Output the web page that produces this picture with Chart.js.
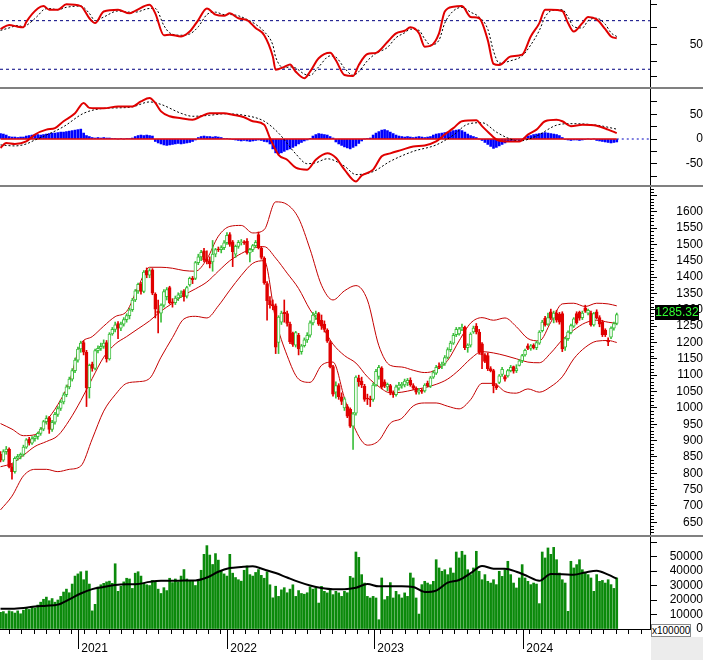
<!DOCTYPE html>
<html>
<head>
<meta charset="utf-8">
<title>VN-Index weekly</title>
<script src="https://cdn.jsdelivr.net/npm/chart.js@4.4.1/dist/chart.umd.min.js"></script>
<style>
  html, body { margin: 0; padding: 0; background: #fff; }
  body { position: relative; width: 703px; height: 660px; overflow: hidden; font-family: "Liberation Sans", Arial, sans-serif; }
  canvas { position: absolute; left: 0; }
  .sep { position: absolute; left: 0; width: 703px; height: 2px; background: #808080; }
  #lastPrice { position: absolute; left: 655px; top: 305px; width: 44px; height: 15px; background: #000; color: #33ff33; font-size: 12px; line-height: 15px; text-align: center; }
  #corner { position: absolute; left: 651px; top: 637px; width: 52px; height: 23px; background: #ececec; }
  #volUnit { position: absolute; left: 651px; top: 624px; width: 38px; height: 11px; border: 1px solid #8a8a8a; background: #fff; font-size: 10px; line-height: 11px; text-align: center; }
</style>
</head>
<body>
<canvas id="rsiChart" width="703" height="87" style="top:0px"></canvas>
<div class="sep" style="top:87px"></div>
<canvas id="macdChart" width="703" height="96" style="top:89px"></canvas>
<div class="sep" style="top:185px"></div>
<canvas id="priceChart" width="703" height="348" style="top:187px"></canvas>
<div class="sep" style="top:535px"></div>
<canvas id="volChart" width="703" height="123" style="top:537px"></canvas>
<div id="corner"></div>
<div id="lastPrice">1285.32</div>
<div id="volUnit">x100000</div>
<script>
// weekly bars, index 0 = first week of Jul 2020, last = week of 23 Aug 2024
const opens = [
  858, 840, 866, 874, 820, 805, 846, 852, 858, 880,
  904, 892, 906, 912, 922, 935, 958, 970, 934, 956,
  980, 998, 1018, 1040, 1064, 1088, 1114, 1146, 1180, 1200,
  1170, 1062, 1134, 1121, 1175, 1182, 1188, 1200, 1150, 1226,
  1240, 1258, 1244, 1256, 1270, 1282, 1300, 1330, 1358, 1378,
  1356, 1420, 1406, 1422, 1348, 1296, 1290, 1314, 1340, 1368,
  1324, 1322, 1336, 1346, 1358, 1342, 1376, 1396, 1396, 1444,
  1462, 1480, 1456, 1450, 1446, 1470, 1486, 1484, 1490, 1505,
  1530, 1508, 1470, 1494, 1506, 1508, 1510, 1474, 1484, 1496,
  1530, 1488, 1458, 1380, 1328, 1316, 1312, 1200, 1262, 1292,
  1288, 1256, 1228, 1192, 1222, 1172, 1190, 1208, 1222, 1260,
  1284, 1288, 1268, 1256, 1238, 1200, 1126, 1048, 1068, 1034,
  1000, 1004, 996, 944, 984, 1090, 1082, 1066, 1030, 1028,
  1026, 1070, 1096, 1122, 1080, 1064, 1068, 1046, 1040, 1060,
  1068, 1070, 1076, 1084, 1068, 1060, 1048, 1054, 1052, 1076,
  1066, 1094, 1106, 1128, 1128, 1136, 1154, 1178, 1198, 1224,
  1226, 1242, 1246, 1184, 1192, 1232, 1250, 1232, 1196, 1162,
  1160, 1120, 1114, 1068, 1078, 1102, 1096, 1098, 1114, 1126,
  1114, 1130, 1144, 1162, 1190, 1182, 1192, 1184, 1198, 1236,
  1274, 1256, 1294, 1274, 1290, 1286, 1288, 1186, 1212, 1230,
  1250, 1288, 1292, 1276, 1306, 1290, 1290, 1254, 1294, 1276,
  1262, 1238, 1206, 1216, 1244, 1258
];
const highs = [
  866, 872, 882, 878, 828, 850, 858, 862, 886, 906,
  910, 912, 916, 926, 940, 962, 976, 974, 962, 986,
  1004, 1024, 1046, 1070, 1094, 1120, 1152, 1186, 1204, 1206,
  1176, 1134, 1140, 1180, 1190, 1198, 1208, 1206, 1230, 1246,
  1262, 1264, 1262, 1276, 1288, 1305, 1335, 1362, 1382, 1384,
  1420, 1428, 1426, 1426, 1352, 1330, 1318, 1362, 1368, 1372,
  1334, 1342, 1352, 1358, 1362, 1372, 1400, 1402, 1448, 1470,
  1482, 1488, 1480, 1462, 1512, 1488, 1492, 1496, 1512, 1536,
  1536, 1512, 1498, 1512, 1515, 1512, 1518, 1488, 1500, 1512,
  1538, 1494, 1462, 1386, 1340, 1330, 1318, 1282, 1296, 1330,
  1296, 1262, 1232, 1234, 1228, 1194, 1214, 1230, 1266, 1292,
  1296, 1292, 1284, 1266, 1242, 1206, 1130, 1080, 1074, 1046,
  1032, 1010, 1000, 986, 1098, 1100, 1094, 1072, 1042, 1036,
  1076, 1118, 1130, 1126, 1086, 1076, 1072, 1052, 1070, 1078,
  1078, 1088, 1090, 1092, 1074, 1064, 1060, 1058, 1074, 1082,
  1096, 1114, 1130, 1138, 1140, 1160, 1184, 1204, 1228, 1246,
  1246, 1256, 1250, 1196, 1230, 1250, 1258, 1240, 1200, 1166,
  1168, 1126, 1118, 1074, 1102, 1124, 1100, 1118, 1130, 1128,
  1132, 1148, 1164, 1180, 1196, 1194, 1196, 1204, 1236, 1268,
  1280, 1290, 1302, 1296, 1298, 1292, 1294, 1216, 1236, 1256,
  1276, 1294, 1296, 1296, 1314, 1302, 1296, 1292, 1300, 1282,
  1268, 1242, 1214, 1248, 1262, 1290
];
const lows = [
  835, 836, 858, 816, 782, 800, 840, 844, 852, 876,
  886, 888, 898, 904, 916, 930, 950, 922, 928, 950,
  974, 992, 1012, 1034, 1058, 1082, 1108, 1140, 1170, 1162,
  1004, 1030, 1112, 1116, 1168, 1176, 1182, 1140, 1146, 1222,
  1232, 1212, 1236, 1250, 1262, 1272, 1295, 1325, 1350, 1348,
  1352, 1398, 1398, 1346, 1275, 1229, 1262, 1308, 1330, 1318,
  1308, 1316, 1328, 1338, 1326, 1336, 1372, 1380, 1392, 1438,
  1450, 1446, 1440, 1428, 1418, 1462, 1478, 1474, 1484, 1500,
  1494, 1432, 1460, 1488, 1498, 1500, 1470, 1446, 1478, 1490,
  1486, 1455, 1378, 1268, 1305, 1300, 1166, 1166, 1255, 1262,
  1250, 1196, 1188, 1186, 1162, 1164, 1186, 1200, 1216, 1254,
  1270, 1252, 1240, 1232, 1200, 1122, 1036, 1030, 1026, 1010,
  992, 970, 940, 873, 978, 1066, 1062, 1020, 1010, 1004,
  1020, 1066, 1088, 1058, 1062, 1052, 1040, 1032, 1036, 1054,
  1060, 1064, 1068, 1066, 1056, 1042, 1042, 1044, 1048, 1064,
  1062, 1090, 1102, 1120, 1120, 1130, 1150, 1172, 1194, 1218,
  1222, 1236, 1178, 1170, 1186, 1228, 1226, 1164, 1120, 1138,
  1114, 1110, 1046, 1056, 1074, 1096, 1082, 1094, 1110, 1106,
  1108, 1128, 1138, 1158, 1178, 1176, 1180, 1178, 1194, 1232,
  1250, 1252, 1270, 1260, 1262, 1256, 1172, 1176, 1206, 1226,
  1246, 1256, 1268, 1270, 1292, 1284, 1250, 1250, 1272, 1248,
  1218, 1218, 1190, 1212, 1238, 1254
];
const closes = [
  840, 866, 874, 820, 805, 846, 852, 858, 880, 902,
  892, 906, 912, 922, 935, 958, 968, 934, 956, 980,
  998, 1018, 1040, 1064, 1088, 1114, 1146, 1180, 1198, 1170,
  1062, 1130, 1121, 1175, 1182, 1188, 1198, 1150, 1226, 1240,
  1254, 1244, 1256, 1270, 1282, 1300, 1330, 1358, 1378, 1356,
  1415, 1406, 1420, 1351, 1302, 1290, 1314, 1356, 1362, 1322,
  1320, 1336, 1346, 1350, 1340, 1368, 1396, 1392, 1444, 1462,
  1476, 1452, 1448, 1440, 1470, 1484, 1484, 1490, 1505, 1528,
  1500, 1478, 1494, 1506, 1508, 1505, 1474, 1484, 1496, 1506,
  1490, 1460, 1382, 1328, 1316, 1312, 1186, 1278, 1290, 1288,
  1258, 1202, 1194, 1230, 1180, 1190, 1208, 1222, 1260, 1284,
  1288, 1256, 1250, 1240, 1204, 1126, 1042, 1068, 1034, 1020,
  1028, 975, 944, 982, 1094, 1080, 1070, 1026, 1028, 1024,
  1070, 1112, 1124, 1064, 1066, 1072, 1046, 1040, 1064, 1070,
  1072, 1082, 1084, 1070, 1060, 1048, 1054, 1050, 1070, 1068,
  1092, 1108, 1124, 1126, 1134, 1154, 1178, 1198, 1222, 1240,
  1242, 1246, 1184, 1192, 1226, 1244, 1232, 1170, 1162, 1142,
  1120, 1114, 1068, 1062, 1098, 1118, 1088, 1114, 1124, 1112,
  1120, 1144, 1160, 1176, 1182, 1190, 1184, 1200, 1232, 1262,
  1254, 1276, 1274, 1290, 1268, 1262, 1180, 1212, 1232, 1252,
  1272, 1260, 1274, 1290, 1296, 1298, 1254, 1288, 1276, 1256,
  1224, 1224, 1202, 1244, 1258, 1285.32
];
const volumes = [
  11500, 12000, 10500, 12500, 12000, 11000, 12500, 10500, 13000, 14500,
  13500, 15500, 14500, 16500, 18500, 20500, 22000, 19500, 21000, 18500,
  20000, 22500, 25500, 27500, 25000, 31000, 36500, 38000, 39500, 34000,
  40000, 31000, 12500, 17000, 29000, 30500, 31500, 32500, 33000, 31500,
  45000, 26000, 29500, 32500, 35000, 34500, 28000, 38500, 39500, 36500,
  31500, 30500, 30000, 33500, 32500, 27500, 24500, 28500, 26500, 35000,
  32000, 34500, 32500, 36500, 41000, 34500, 33000, 33500, 30000, 34000,
  40500, 51500, 57500, 51000, 44500, 52000, 47500, 40000, 38000, 36500,
  51500, 38500, 35500, 34000, 33000, 40500, 43500, 37500, 36500, 39000,
  41000, 37000, 35000, 39500, 30500, 21500, 29500, 22500, 27000, 28500,
  25000, 27500, 30500, 22500, 26500, 24500, 24000, 25000, 29000, 27500,
  28300, 17900, 29400, 26000, 24900, 27100, 23700, 26000, 24900, 22500,
  26000, 25000, 36300, 35200, 53100, 49400, 37500, 31700, 22500, 21400,
  22500, 21400, 6400, 35200, 20200, 22500, 32000, 21400, 26000, 23700,
  21400, 24900, 22500, 38600, 35200, 21400, 10300, 30600, 32900, 31700,
  30600, 32900, 47800, 42100, 39800, 40900, 37500, 42100, 38600, 53100,
  49000, 53600, 51000, 40900, 37500, 42100, 53600, 39800, 34000, 37500,
  32900, 31700, 34000, 30600, 39800, 36300, 40900, 46700, 37500, 31700,
  28300, 35200, 44400, 35200, 32900, 30600, 31700, 31000, 17500, 53100,
  49000, 55900, 51500, 56300, 47800, 38600, 34000, 31700, 12200, 46700,
  42100, 44400, 47800, 40900, 38600, 37500, 35200, 26000, 37500, 32900,
  33500, 31700, 34000, 30600, 28000, 35200
];
const macdHist = [
  11, 10, 8, 5, 4, 4, 3, 4, 4, 6,
  7, 8, 9, 9, 8, 9, 10, 11, 12, 12,
  13, 14, 14, 15, 16, 17, 18, 19, 20, 12,
  7, 5, 3, 2, 3, 2, 3, 2, 2, 1,
  1, 0, 1, 0, 1, 1, 2, 5, 7, 8,
  7, 8, 7, 6, -5, -8, -10, -12, -13, -12,
  -11, -10, -9, -10, -9, -8, -7, -5, -2, 3,
  5, 6, 5, 5, 4, 5, 4, 3, 1, 1,
  0, -1, -2, -3, -4, -3, -4, -5, -4, -3,
  -2, -3, -5, -6, -10, -20, -28, -30, -28, -25,
  -22, -20, -17, -14, -10, -7, -4, -2, 1, 6,
  9, 11, 10, 9, 8, 5, 2, -6, -10, -13,
  -16, -18, -20, -17, -14, -9, -4, 0, 1, 2,
  8, 12, 15, 18, 19, 17, 14, 11, 8, 6,
  5, 4, 5, 4, 3, 4, 5, 4, 3, 4,
  5, 8, 10, 11, 12, 13, 14, 15, 17, 18,
  19, 17, 14, 10, 7, 5, 3, 0, -3, -7,
  -11, -15, -19, -17, -14, -11, -8, -5, -4, -3,
  -2, -3, -1, 3, 6, 7, 9, 10, 11, 12,
  13, 12, 11, 10, 9, 7, 3, -1, -2, -3,
  -2, -2, -3, -2, -1, 0, -1, 0, -3, -4,
  -5, -6, -7, -8, -7, -6
];

// indicator lines at these week indexes
const rsiWeeks = [0, 3, 6, 8, 9, 13, 15, 17, 20, 23, 28, 31, 33, 36, 41, 45, 47, 52, 54, 57,
  59, 63, 66, 69, 72, 75, 78, 80, 83, 86, 89, 92, 95, 96, 99, 101, 103, 106, 108, 111,
  115, 117, 120, 123, 125, 128, 131, 135, 138, 141, 143, 146, 148, 150, 153, 155, 158, 161, 164, 167,
  170, 172, 174, 178, 182, 185, 188, 190, 192, 196, 198, 200, 203, 205, 208, 211, 213, 215];
const rsiValues = [63, 66.5, 65, 64.5, 69, 80, 82, 79, 79, 83.5, 82, 72, 68, 77.5, 79, 76, 78, 83, 76, 58,
  58.5, 57, 61, 70.5, 80, 75, 74, 76, 72, 70.5, 64, 58, 40.5, 29.5, 32, 34, 28, 22.6, 28, 39,
  43.5, 37.4, 25.3, 24.4, 33.5, 42.5, 43.5, 52.5, 59.6, 61.7, 64.5, 59.6, 48.6, 49.2, 59.6, 77.5, 81.5, 82, 73, 72,
  54, 34.5, 33.5, 40.5, 42, 57, 68, 79, 79, 78, 68, 61, 68, 73, 71, 63, 57, 55.5];
const rsiSignal = [62, 64, 66, 65, 66, 74, 79, 80, 79, 81, 82, 76, 70, 73, 78, 77, 77, 80, 80, 66,
  60, 58, 59, 65, 75, 77, 75, 75, 74, 71, 67, 61, 50, 40, 31, 32, 31, 26, 25, 32,
  41, 40, 31, 25, 28, 37, 43, 48, 56, 60, 63, 62, 55, 50, 54, 68, 78, 81, 77, 73,
  63, 45, 35, 37, 41, 50, 62, 73, 78, 79, 73, 65, 64, 70, 72, 67, 60, 57];

const macdWeeks = [0, 2, 5, 9, 12, 16, 19, 22, 26, 29, 31, 36, 41, 46, 49, 52, 54, 56, 59, 63,
  67, 70, 73, 78, 81, 85, 88, 92, 94, 97, 100, 103, 107, 110, 114, 117, 120, 124, 126, 130,
  133, 136, 140, 144, 148, 152, 155, 158, 161, 166, 168, 171, 173, 177, 181, 184, 187, 190, 194, 196,
  199, 203, 208, 212, 215];
const macdValues = [-18, -8, -10, -5, 9, 19, 22, 36, 52, 73, 63, 62, 66, 66, 76, 83, 73, 56, 46, 42,
  39, 46, 52, 52, 49, 44, 36, 29, 2, -32, -42, -58, -62, -42, -29, -38, -62, -86, -74, -62,
  -35, -29, -22, -15, -13, -5, 9, 22, 36, 38, 26, 9, -1, -5, -5, 9, 19, 36, 39, 36,
  26, 29, 27, 19, 12];
const signalWeeks = [0, 5, 9, 12, 16, 22, 29, 36, 41, 46, 52, 56, 63, 67, 73, 78, 85, 92, 97, 103,
  107, 110, 114, 120, 124, 130, 136, 144, 152, 158, 163, 168, 173, 177, 181, 187, 194, 199, 208, 215];
const signalValues = [-12, -14, -10, -2, 8, 25, 52, 62, 63, 65, 75, 70, 52, 46, 48, 51, 48, 36, 12, -30,
  -50, -48, -40, -55, -72, -66, -45, -25, -12, 8, 30, 33, 14, 2, -4, 6, 28, 31, 28, 20];

const bandWeeks = [0, 4, 8, 12, 16, 20, 24, 28, 32, 36, 40, 44, 48, 52, 56, 60, 64, 68, 72, 76,
  80, 84, 88, 92, 96, 100, 104, 108, 112, 116, 120, 124, 128, 132, 136, 140, 144, 148, 152, 156,
  160, 164, 168, 172, 176, 180, 184, 188, 192, 196, 200, 204, 208, 212, 215];
const bandUpper = [952, 935, 915, 918, 960, 1010, 1080, 1195, 1218, 1250, 1279, 1295, 1370, 1430, 1430, 1427, 1420, 1418, 1455, 1525,
  1555, 1558, 1535, 1545, 1630, 1622, 1580, 1485, 1375, 1330, 1358, 1374, 1330, 1190, 1130, 1125, 1115, 1108, 1116, 1145,
  1205, 1259, 1276, 1268, 1275, 1248, 1212, 1205, 1262, 1318, 1320, 1310, 1320, 1318, 1312];
const bandMiddle = [820, 830, 855, 882, 897, 915, 962, 1022, 1090, 1155, 1195, 1218, 1242, 1266, 1296, 1320, 1345, 1364, 1385, 1418,
  1450, 1472, 1488, 1493, 1458, 1412, 1365, 1300, 1252, 1195, 1160, 1137, 1095, 1065, 1046, 1048, 1055, 1062, 1072, 1088,
  1116, 1150, 1172, 1168, 1160, 1150, 1140, 1138, 1168, 1208, 1238, 1260, 1268, 1262, 1258];
const bandLower = [688, 730, 792, 812, 812, 805, 812, 822, 905, 990, 1040, 1075, 1080, 1090, 1155, 1215, 1272, 1280, 1275, 1312,
  1360, 1405, 1442, 1450, 1270, 1160, 1088, 1078, 1130, 1140, 1030, 930, 886, 900, 953, 968, 1006, 1015, 1015, 1005,
  997, 1025, 1075, 1075, 1050, 1045, 1058, 1048, 1065, 1095, 1150, 1185, 1204, 1206, 1200];
const volAverage = [14000, 14000, 14500, 15500, 16000, 16800, 20500, 24500, 27500, 29000, 30300, 30800, 31000, 32500, 33300, 33300, 33400, 33500, 35500, 39500,
  42000, 42800, 43300, 41000, 38600, 35500, 32500, 30000, 28300, 27500, 27500, 28500, 31000, 29400, 29400, 29400, 29000, 25500, 26500, 32000,
  33800, 38500, 43500, 41600, 41600, 39500, 36300, 33300, 37900, 37800, 37500, 39000, 40200, 37500, 34700];

// x axis: week index where each calendar year starts
const yearStarts = [27.0, 79.0, 130.3, 182.3];
const yearLabels = ['2021', '2022', '2023', '2024'];

const X_MIN = -0.18;
const X_MAX = 226.6;
const FONT = "'Liberation Sans', Arial, sans-serif";
const UP = '#3cbf3c';
const DOWN = '#e00000';
const BAND = '#c40000';

Chart.defaults.font.family = FONT;
Chart.defaults.font.size = 12;
Chart.defaults.color = '#000';

// extra tick marks (minor price ticks, long year ticks)
const extraTicks = {
  id: 'extraTicks',
  afterDraw(chart, args, opts) {
    if (!opts.marks) return;
    const ctx = chart.ctx;
    ctx.save();
    ctx.strokeStyle = '#000';
    ctx.lineWidth = 1;
    opts.marks.forEach(m => {
      const s = chart.scales[m.scale];
      ctx.beginPath();
      m.values.forEach(v => {
        const p = Math.round(s.getPixelForValue(v)) + 0.5;
        if (s.isHorizontal()) {
          ctx.moveTo(p, s.top);
          ctx.lineTo(p, s.top + m.len);
        } else {
          ctx.moveTo(s.left, p);
          ctx.lineTo(s.left + m.len, p);
        }
      });
      ctx.stroke();
    });
    ctx.restore();
  }
};
Chart.register(extraTicks);

function pts(xs, ys) {
  return xs.map((x, k) => ({ x: x, y: ys[k] }));
}

function hiddenX() {
  return { type: 'linear', min: X_MIN, max: X_MAX, offset: false, display: false };
}

function rightAxis(min, max, tickValues, label, pad) {
  return {
    position: 'right',
    min: min,
    max: max,
    afterBuildTicks: scale => { scale.ticks = tickValues.map(v => ({ value: v })); },
    afterFit: scale => { scale.width = 53; scale.paddingTop = 0; scale.paddingBottom = 0; },
    border: { display: true, color: '#000', width: 1 },
    grid: { drawOnChartArea: false, drawTicks: true, tickLength: 7, tickColor: '#000', tickWidth: 1 },
    ticks: { autoSkip: false, crossAlign: 'far', padding: pad, color: '#000', font: { family: FONT, size: 12 }, callback: label }
  };
}

function baseOptions(scales, plugins) {
  return {
    responsive: false,
    animation: false,
    devicePixelRatio: 1,
    layout: { padding: 0 },
    elements: { point: { radius: 0 } },
    plugins: Object.assign({ legend: { display: false }, tooltip: { enabled: false } }, plugins || {}),
    scales: scales
  };
}

function flatLine(y, x0, x1, color, dash, width) {
  return {
    type: 'line', data: [{ x: x0, y: y }, { x: x1, y: y }],
    borderColor: color, borderWidth: width, borderDash: dash, pointRadius: 0
  };
}

const lastWeek = closes.length - 1;

// RSI panel
new Chart(document.getElementById('rsiChart'), {
  type: 'line',
  data: {
    datasets: [
      { data: pts(rsiWeeks, rsiValues), borderColor: '#e00000', borderWidth: 2, cubicInterpolationMode: 'monotone' },
      { data: pts(rsiWeeks, rsiSignal), borderColor: '#000', borderWidth: 1, borderDash: [2, 2], cubicInterpolationMode: 'monotone' },
      flatLine(70, X_MIN, X_MAX, '#000080', [3, 3], 1),
      flatLine(30, X_MIN, X_MAX, '#000080', [3, 3], 1)
    ]
  },
  options: baseOptions({
    x: hiddenX(),
    y: rightAxis(15.4, 87, [24, 36, 50, 64, 83], v => (v === 50 ? '50' : ''), 24)
  })
});

// MACD panel
new Chart(document.getElementById('macdChart'), {
  type: 'line',
  data: {
    datasets: [
      { data: pts(macdWeeks, macdValues), borderColor: '#e00000', borderWidth: 2, cubicInterpolationMode: 'monotone' },
      { data: pts(signalWeeks, signalValues), borderColor: '#000', borderWidth: 1, borderDash: [2, 2], cubicInterpolationMode: 'monotone' },
      flatLine(0, 0, lastWeek, '#e00000', [], 1.5),
      flatLine(0, lastWeek, X_MAX, '#0000c0', [2, 3], 1),
      {
        type: 'bar', data: macdHist.map((h, i) => ({ x: i, y: h })),
        backgroundColor: '#0000ff', barThickness: 2, grouped: false, borderWidth: 0
      }
    ]
  },
  options: baseOptions({
    x: hiddenX(),
    y: rightAxis(-93.1, 101.2, [-75, -50, -25, 0, 25, 50, 75], v => ([-50, 0, 50].includes(v) ? String(v) : ''), 21)
  })
});

// price panel: candles + bollinger bands
const candleColor = closes.map((c, i) => (c >= opens[i] ? UP : DOWN));
const bodyFill = closes.map((c, i) => (c >= opens[i] ? '#ffffff' : DOWN));
const priceMajor = [];
for (let v = 650; v <= 1650; v += 50) priceMajor.push(v);
const priceMinor = [];
for (let v = 620; v <= 1670; v += 10) if (v % 50 !== 0) priceMinor.push(v);

new Chart(document.getElementById('priceChart'), {
  type: 'line',
  data: {
    datasets: [
      {
        type: 'bar', data: closes.map((c, i) => ({ x: i, y: [opens[i], c] })),
        backgroundColor: bodyFill, borderColor: candleColor, borderWidth: 1, borderSkipped: false,
        barThickness: 3, grouped: false
      },
      {
        type: 'bar', data: highs.map((h, i) => ({ x: i, y: [lows[i], h] })),
        backgroundColor: candleColor, borderWidth: 0, barThickness: 1, grouped: false
      },
      { data: pts(bandWeeks, bandUpper), borderColor: BAND, borderWidth: 1, cubicInterpolationMode: 'monotone' },
      { data: pts(bandWeeks, bandMiddle), borderColor: BAND, borderWidth: 1, cubicInterpolationMode: 'monotone' },
      { data: pts(bandWeeks, bandLower), borderColor: BAND, borderWidth: 1, cubicInterpolationMode: 'monotone' }
    ]
  },
  options: baseOptions({
    x: hiddenX(),
    y: rightAxis(611.2, 1675.5, priceMajor, v => (v <= 1600 ? String(v) : ''), 13)
  }, {
    extraTicks: { marks: [{ scale: 'y', values: priceMinor, len: 4 }] }
  })
});

// volume panel with the date axis
const monthTicks = [];
const yearGap = 52.1;
for (let k = -1; k < yearStarts.length; k++) {
  const start = k < 0 ? yearStarts[0] - yearGap : yearStarts[k];
  for (let m = 0; m < 12; m++) {
    const v = m === 0 && k >= 0 ? start : start + m * yearGap / 12;
    if (v >= 0 && v <= X_MAX - 0.5) monthTicks.push(v);
  }
}

new Chart(document.getElementById('volChart'), {
  type: 'line',
  data: {
    datasets: [
      { data: pts(bandWeeks, volAverage), borderColor: '#000', borderWidth: 2, cubicInterpolationMode: 'monotone' },
      {
        type: 'bar', data: volumes.map((v, i) => ({ x: i, y: v })),
        backgroundColor: '#0b8a0b', barThickness: 2, grouped: false, borderWidth: 0
      }
    ]
  },
  options: baseOptions({
    x: {
      type: 'linear', min: X_MIN, max: X_MAX, offset: false, position: 'bottom',
      afterBuildTicks: scale => { scale.ticks = monthTicks.map(v => ({ value: v })); },
      afterFit: scale => { scale.height = 31; scale.paddingLeft = 0; scale.paddingRight = 0; },
      border: { display: true, color: '#000', width: 1 },
      grid: { drawOnChartArea: false, drawTicks: true, tickLength: 5, tickColor: '#000' },
      ticks: {
        autoSkip: false, maxRotation: 0, minRotation: 0, align: 'start', padding: 7, color: '#000',
        font: { family: FONT, size: 12 },
        callback: v => { const k = yearStarts.indexOf(v); return k >= 0 ? ' ' + yearLabels[k] : ''; }
      }
    },
    y: rightAxis(0, 63450, [0, 10000, 20000, 30000, 40000, 50000, 60000], v => (v <= 50000 ? String(v) : ''), 7)
  }, {
    extraTicks: { marks: [{ scale: 'x', values: yearStarts, len: 20 }] }
  })
});
</script>
</body>
</html>
